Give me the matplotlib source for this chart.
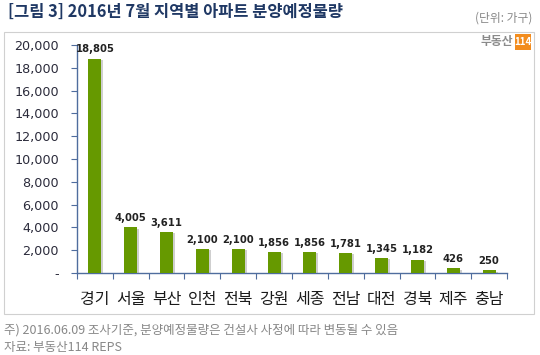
import matplotlib
matplotlib.use("Agg")
import matplotlib.pyplot as plt
from matplotlib.patches import Rectangle
import matplotlib.patheffects as pe
from matplotlib.ticker import FuncFormatter, FixedLocator

plt.rcParams['font.family'] = ['Noto Sans CJK KR', 'DejaVu Sans']

regions = ['경기', '서울', '부산', '인천', '전북', '강원', '세종', '전남', '대전', '경북', '제주', '충남']
values = [18805, 4005, 3611, 2100, 2100, 1856, 1856, 1781, 1345, 1182, 426, 250]
yticks = list(range(0, 20001, 2000))

title = '[그림 3] 2016년 7월 지역별 아파트 분양예정물량'
unit = '(단위: 가구)'
note1 = '주) 2016.06.09 조사기준, 분양예정물량은 건설사 사정에 따라 변동될 수 있음'
note2 = '자료: 부동산114 REPS'

W, H = 540, 355
fig = plt.figure(figsize=(W / 100, H / 100), dpi=100)
fig.patch.set_facecolor('white')

# outer box
fig.add_artist(Rectangle((4 / W, 1 - 314 / H), (534 - 4) / W, (314 - 32) / H,
                         transform=fig.transFigure, fill=False, edgecolor='#d0d0d0', lw=0.8))

ax = fig.add_axes([77 / W, 1 - 273 / H, (507 - 77) / W, (273 - 45) / H])
x = list(range(len(regions)))
bars = ax.bar(x, values, width=0.36, color='#669900', zorder=3)
for b in bars:
    b.set_path_effects([pe.SimplePatchShadow(offset=(1.5, -1), shadow_rgbFace='#888888', alpha=0.4), pe.Normal()])

for xi, v in zip(x, values):
    ax.annotate(f'{v:,}', (xi, v), xytext=(0, 3), textcoords='offset points',
                ha='center', va='bottom', fontsize=7.2, fontweight='bold', color='#222222',
                family='DejaVu Sans')

ax.set_xlim(-0.5, len(regions) - 0.5)
ax.set_ylim(0, 20000)
ax.set_yticks(yticks)
ax.yaxis.set_major_formatter(FuncFormatter(lambda v, p: '-' if v == 0 else f'{int(v):,}'))
ax.xaxis.set_major_locator(FixedLocator([i - 0.5 for i in range(len(regions) + 1)]))
ax.set_xticklabels([])
for xi, r in zip(x, regions):
    ax.text(xi, -0.08, r, transform=ax.get_xaxis_transform(), ha='center', va='top',
            fontsize=11.5, color='#1a1a1a', fontweight='medium')

axis_color = '#4f6d9e'
for s in ['top', 'right']:
    ax.spines[s].set_visible(False)
for s in ['left', 'bottom']:
    ax.spines[s].set_color(axis_color)
    ax.spines[s].set_linewidth(1.0)
ax.tick_params(axis='y', direction='out', length=4, color=axis_color, labelsize=9.2,
               labelcolor='#2b2b3b', pad=9)
ax.tick_params(axis='x', direction='out', length=4, color=axis_color)
for lab in ax.get_yticklabels():
    lab.set_family('DejaVu Sans')

fig.text(8 / W, 1 - 12 / H, title, fontsize=11.8, fontweight='bold', color='#1f3864',
         ha='left', va='center')
fig.text(532 / W, 1 - 18 / H, unit, fontsize=8.5, color='#888888', ha='right', va='center')

# logo
fig.text(513 / W, 1 - 42 / H, '부동산', fontsize=8.5, color='#8a8a8a', fontweight='bold',
         ha='right', va='center')
fig.add_artist(Rectangle((515 / W, 1 - 50 / H), 16 / W, 16 / H, transform=fig.transFigure,
                         facecolor='#f28c1e', edgecolor='none'))
fig.text(523 / W, 1 - 42 / H, '114', fontsize=7, color='white', fontweight='bold',
         ha='center', va='center')

fig.text(4 / W, 1 - 330 / H, note1, fontsize=9, color='#888888', ha='left', va='center')
fig.text(4 / W, 1 - 347 / H, note2, fontsize=9, color='#888888', ha='left', va='center')

fig.savefig('out.png', dpi=100, facecolor='white')
